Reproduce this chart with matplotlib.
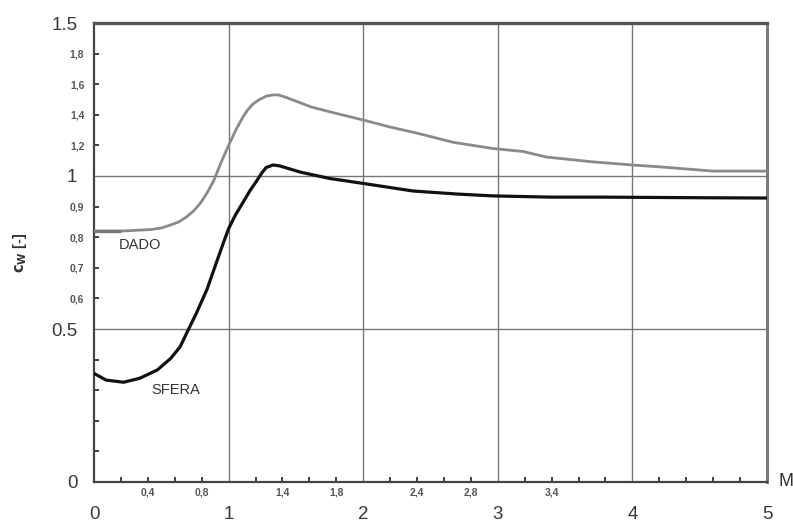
import matplotlib
matplotlib.use("Agg")
import matplotlib.pyplot as plt
from matplotlib.ticker import FixedLocator, FixedFormatter

plt.rcParams['font.family'] = ['Liberation Sans', 'DejaVu Sans']

# Data
mach_dado = [0.0, 0.2, 0.42, 0.5, 0.57, 0.63, 0.69, 0.74, 0.79, 0.84, 0.89, 0.94, 1.0, 1.05, 1.10,
             1.14, 1.18, 1.23, 1.28, 1.33, 1.37, 1.42, 1.48, 1.54, 1.61, 1.75,
             2.0, 2.2, 2.4, 2.67, 2.96, 3.19, 3.36, 3.71, 4.0, 4.2, 4.6, 5.0]
cw_dado = [0.82, 0.82, 0.825, 0.83, 0.84, 0.85, 0.867, 0.886, 0.911, 0.945, 0.985, 1.04, 1.10, 1.147, 1.188,
           1.215, 1.235, 1.25, 1.261, 1.265, 1.265, 1.258, 1.248, 1.238, 1.226, 1.21,
           1.183, 1.16, 1.14, 1.11, 1.09, 1.08, 1.062, 1.046, 1.036, 1.03, 1.016, 1.016]

mach_sfera = [0.0, 0.09, 0.22, 0.34, 0.47, 0.57, 0.64, 0.70, 0.76, 0.84, 0.91, 0.96, 1.0, 1.05,
              1.11, 1.16, 1.21, 1.25, 1.28, 1.33, 1.38, 1.53, 1.75,
              1.98, 2.37, 2.70, 2.96, 3.39, 3.76, 4.5, 5.0]
cw_sfera = [0.355, 0.333, 0.326, 0.339, 0.366, 0.404, 0.442, 0.497, 0.551, 0.63, 0.718, 0.78, 0.828, 0.872,
            0.916, 0.953, 0.985, 1.012, 1.028, 1.036, 1.033, 1.013, 0.992,
            0.977, 0.951, 0.941, 0.935, 0.931, 0.931, 0.929, 0.928]

x_major = [0, 1, 2, 3, 4, 5]
x_major_labels = ["0", "1", "2", "3", "4", "5"]
y_major = [0, 0.5, 1, 1.5]
y_major_labels = ["0", "0.5", "1", "1.5"]

x_minor = [0.2, 0.4, 0.6, 0.8, 1.2, 1.4, 1.6, 1.8, 2.2, 2.4, 2.6, 2.8, 3.2, 3.4, 3.6, 3.8,
           4.2, 4.4, 4.6, 4.8]
x_minor_labels = ["", "0,4", "", "0,8", "", "1,4", "", "1,8", "", "2,4", "", "2,8", "", "3,4", "", "",
                  "", "", "", ""]
y_minor = [0.1, 0.2, 0.3, 0.4, 0.6, 0.7, 0.8, 0.9, 1.1, 1.2, 1.3, 1.4]
y_minor_labels = ["", "", "", "", "0,6", "0,7", "0,8", "0,9", "1,2", "1,4", "1,6", "1,8"]

fig = plt.figure(figsize=(7.93, 5.28), dpi=100)
ax = fig.add_axes([94/793, 46/528, (767-94)/793, (482-23)/528])

ax.set_xlim(0, 5)
ax.set_ylim(0, 1.5)

# grid lines
for xv in [1, 2, 3, 4]:
    ax.axvline(xv, color='#777777', lw=1.0, zorder=1)
for yv in [0.5, 1.0]:
    ax.axhline(yv, color='#777777', lw=1.0, zorder=1)

ax.plot(mach_dado, cw_dado, color='#8a8a8a', lw=2.0, zorder=3, solid_capstyle='butt')
ax.plot(mach_dado[:2], cw_dado[:2], color='#767676', lw=2.4, zorder=3, solid_capstyle='butt')
ax.plot(mach_sfera, cw_sfera, color='#111111', lw=2.3, zorder=3, solid_capstyle='butt')

# spines
ax.spines['left'].set_color('#444444'); ax.spines['left'].set_linewidth(1.6)
ax.spines['bottom'].set_color('#444444'); ax.spines['bottom'].set_linewidth(1.6)
ax.spines['top'].set_color('#555555'); ax.spines['top'].set_linewidth(2.4)
ax.spines['right'].set_color('#7a7a7a'); ax.spines['right'].set_linewidth(2.2)

ax.xaxis.set_major_locator(FixedLocator(x_major))
ax.xaxis.set_major_formatter(FixedFormatter(x_major_labels))
ax.yaxis.set_major_locator(FixedLocator(y_major))
ax.yaxis.set_major_formatter(FixedFormatter(y_major_labels))
ax.xaxis.set_minor_locator(FixedLocator(x_minor))
ax.xaxis.set_minor_formatter(FixedFormatter(x_minor_labels))
ax.yaxis.set_minor_locator(FixedLocator(y_minor))
ax.yaxis.set_minor_formatter(FixedFormatter(y_minor_labels))

ax.tick_params(axis='x', which='major', length=0, pad=17, labelsize=13.5, labelcolor='#3a3a3a')
ax.tick_params(axis='y', which='major', length=0, pad=12, labelsize=13.5, labelcolor='#3a3a3a')
ax.tick_params(axis='x', which='minor', direction='in', length=3.5, width=1.3, color='#333333',
               pad=4, labelsize=7.5, labelcolor='#555555')
ax.tick_params(axis='y', which='minor', direction='in', length=3.5, width=1.3, color='#333333',
               pad=7, labelsize=7.5, labelcolor='#555555')
for lab in ax.get_xticklabels(minor=True) + ax.get_yticklabels(minor=True):
    lab.set_fontweight('bold')

ax.text(0.34, 0.775, "DADO", fontsize=10.5, color='#333333', ha='center', va='center')
ax.text(0.61, 0.30, "SFERA", fontsize=10.5, color='#333333', ha='center', va='center')
fig.text(778/793, 1 - 482/528, "M", fontsize=13, color='#333333', ha='left', va='center')

fig.text(20/793, 1 - 253/528, r"$\mathbf{c_W}$ [-]", rotation=90, fontsize=10.5, fontweight='bold',
         color='#333333', ha='center', va='center')

fig.savefig("out.png", dpi=100, facecolor='white')
